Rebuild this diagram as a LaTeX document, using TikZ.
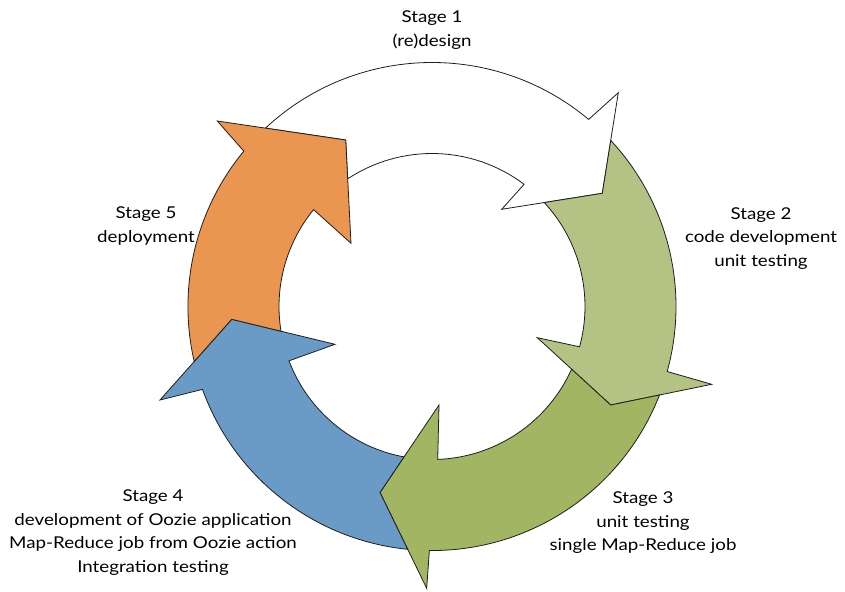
\documentclass[tikz,border=0pt]{standalone}
\usepackage{fontspec}
\setmainfont{Lato}[FakeStretch=1.15]
\usetikzlibrary{calc,intersections}
\definecolor{sorange}{RGB}{235,150,80}
\definecolor{sblue}{RGB}{105,155,198}
\definecolor{slgreen}{RGB}{180,194,132}
\definecolor{sdgreen}{RGB}{162,181,98}
\definecolor{sline}{RGB}{30,30,30}
\def\Ro{244}
\def\Ri{153}
\tikzset{
  arrowpart/.style={draw=sline, line width=0.8pt, line join=miter, fill=#1},
  lbl/.style={align=center, inner sep=0pt, font=\fontsize{16.3}{23.5}\selectfont}
}
% #1 fill, #2 arrow id, #3 previous arrow id, #4 outer notch angle, #5 inner notch angle
\newcommand\cyclearrow[5]{%
  \path[arrowpart=#1] let \p1=($(P#2o)-(C)$), \p2=($(P#2i)-(C)$),
      \n1={atan2(\y1,\x1)}, \n2={atan2(\y2,\x2)} in
    (P#2o) arc[start angle=\n1, end angle=#4, radius=\Ro]
    -- (Bo#2) -- (T#2) -- (Bi#2) -- (Ni#2)
    arc[start angle=#5, end angle=\n2, radius=\Ri]
    -- (T#3) -- cycle;}
\begin{document}
\begin{tikzpicture}[x=1pt,y=1pt]
\useasboundingbox (0,0) rectangle (845,-591);
\coordinate (C) at (432,-306.5);
% heads: outer barb, tip, inner barb, notches
\coordinate (Bo1) at (618.3,-92.7);  \coordinate (T1) at (602.3,-193.3); \coordinate (Bi1) at (501.7,-209.3);
\coordinate (No1) at ($(C)+(50.05:\Ro)$); \coordinate (Ni1) at ($(C)+(53.0:\Ri)$);
\coordinate (Bo2) at (711.7,-384.3); \coordinate (T2) at (610.7,-405);   \coordinate (Bi2) at (537.3,-337.7);
\coordinate (No2) at ($(C)+(-15.46:\Ro)$); \coordinate (Ni2) at ($(C)+(-15.27:\Ri)$);
\coordinate (Bo3) at (426.7,-588.3); \coordinate (T3) at (380,-492.5);   \coordinate (Bi3) at (439,-405);
\coordinate (No3) at ($(C)+(-90.64:\Ro)$); \coordinate (Ni3) at ($(C)+(-87.86:\Ri)$);
\coordinate (Bo4) at (160,-400);     \coordinate (T4) at (231.7,-319.3); \coordinate (Bi4) at (335,-344.3);
\coordinate (No4) at ($(C)+(-160.15:\Ro)$); \coordinate (Ni4) at ($(C)+(-159.2:\Ri)$);
\coordinate (Bo5) at (217.3,-121);   \coordinate (T5) at (345.7,-140);   \coordinate (Bi5) at (351,-243.3);
\coordinate (No5) at ($(C)+(140.45:\Ro)$); \coordinate (Ni5) at ($(C)+(140.7:\Ri)$);
% circles and head edges for the tail cuts
\path[name path=outerc] (C) circle[radius=\Ro];
\path[name path=innerc] (C) circle[radius=\Ri];
\foreach \k in {1,...,5}{
  \path[name path global=eo\k] (Bo\k) -- (T\k);
  \path[name path global=ei\k] (T\k) -- (Bi\k);
}
\path[name intersections={of=outerc and eo5, by=P1o}];
\path[name intersections={of=innerc and ei5, by=P1i}];
\path[name intersections={of=outerc and eo1, by=P2o}];
\path[name intersections={of=innerc and ei1, by=P2i}];
\path[name intersections={of=outerc and eo2, by=P3o}];
\path[name intersections={of=innerc and ei2, by=P3i}];
\path[name intersections={of=outerc and eo3, by=P4o}];
\path[name intersections={of=innerc and ei3, by=P4i}];
\path[name intersections={of=outerc and eo4, by=P5o}];
\path[name intersections={of=innerc and ei4, by=P5i}];
% arrows
\cyclearrow{white}{1}{5}{50.05}{53.0}
\cyclearrow{slgreen}{2}{1}{-15.46}{-15.27}
\cyclearrow{sdgreen}{3}{2}{-90.64}{-87.86}
\cyclearrow{sblue}{4}{3}{-160.15}{-159.2}
\cyclearrow{sorange}{5}{4}{-219.55}{-219.3}
% labels
\node[lbl] (s1) at (432,-30) {Stage 1\\(re)design};
\node[lbl] (s2) at (761,-238.5) {Stage 2\\code development\\unit testing};
\node[lbl] (s3) at (643,-523) {Stage 3\\unit testing\\single Map-Reduce job};
\node[lbl] (s4) at (153,-532.5) {Stage 4\\development of Oozie application\\Map-Reduce job from Oozie action\\Integration testing};
\node[lbl] (s5) at (146,-226) {Stage 5\\deployment};
\end{tikzpicture}
\end{document}
